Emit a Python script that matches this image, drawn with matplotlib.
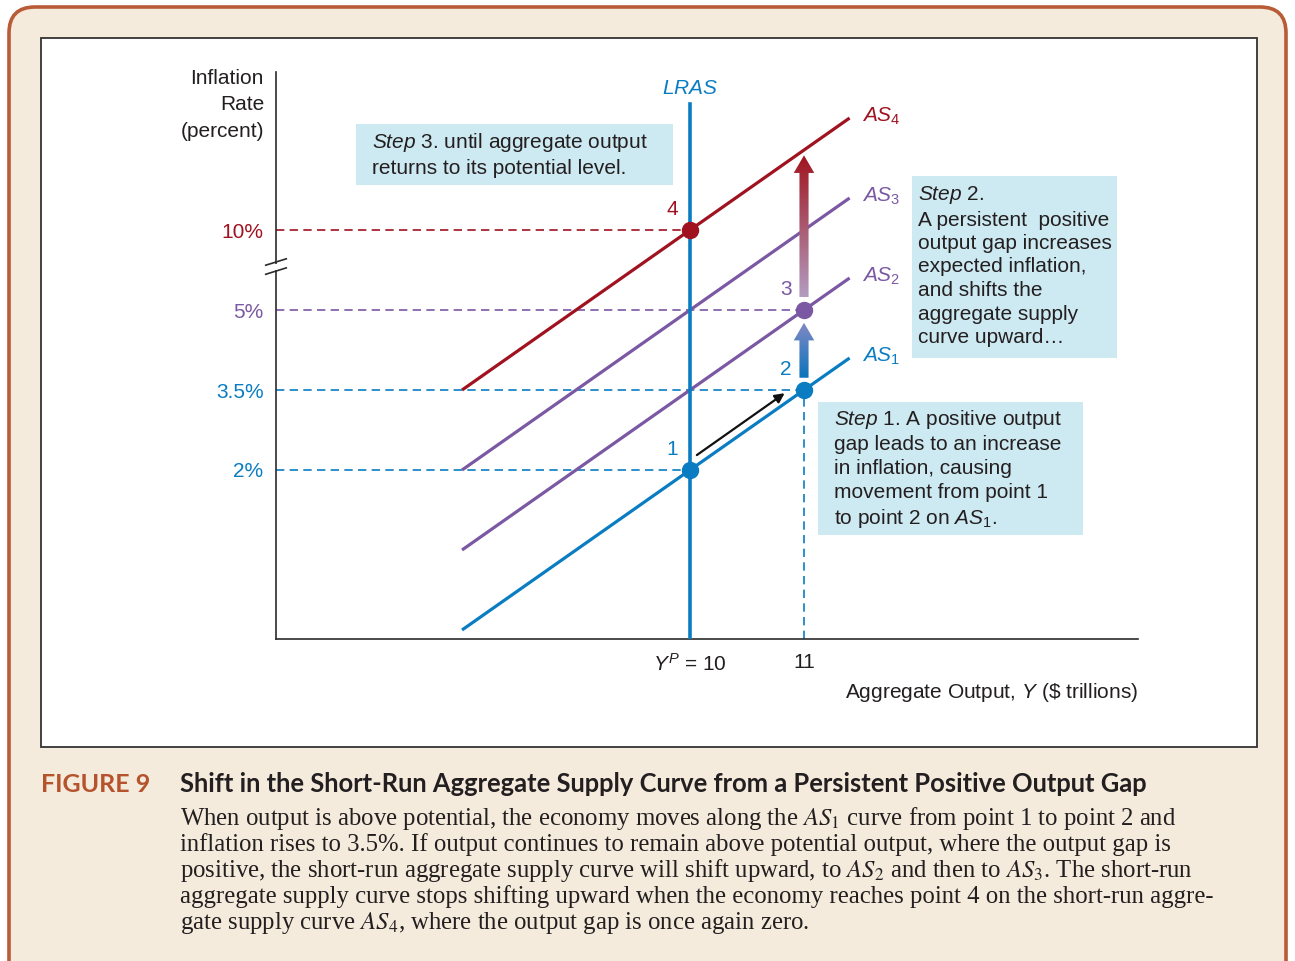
import numpy as np
import matplotlib
matplotlib.use('Agg')
from matplotlib import pyplot as plt
from matplotlib.patches import FancyBboxPatch, Rectangle, FancyArrow
from matplotlib.colors import LinearSegmentedColormap

plt.rcParams['font.family'] = ['Liberation Sans', 'DejaVu Sans']
plt.rcParams['mathtext.fontset'] = 'custom'
plt.rcParams['mathtext.rm'] = 'Liberation Sans'
plt.rcParams['mathtext.it'] = 'Liberation Sans:italic'

# data
y_pot = 10          # potential output, $ trillions
y_gap = 11          # output above potential
as_names = ['AS_1', 'AS_2', 'AS_3', 'AS_4']
as_level = [2.0, 3.5, 5.0, 6.5]      # height of each AS curve at Y = Y^P (10% drawn at 6.5, axis broken)
as_slope = 1.5
as_x = [8.0, 11.4]
infl_ticks = [2.0, 3.5, 5.0, 6.5]
infl_labels = ['2%', '3.5%', '5%', '10%']
pts_x = [10, 11, 11, 10]
pts_y = [2.0, 3.5, 5.0, 6.5]
pts_lab = ['1', '2', '3', '4']

blue = '#0a7dc2'
purple = '#7b58a3'
red = '#a0121f'
dark = '#231f20'
boxc = '#cde9f1'
as_col = [blue, purple, purple, red]
pt_col = [blue, blue, purple, red]

W, H = 1295, 961
fig = plt.figure(figsize=(W / 100, H / 100), dpi=100)
fig.patch.set_facecolor('white')

# background panel (pixel coords)
bg = fig.add_axes([0, 0, 1, 1], zorder=0)
bg.set_xlim(0, W)
bg.set_ylim(H, 0)
bg.axis('off')
bg.add_patch(FancyBboxPatch((9, 7), W - 18, H + 40, boxstyle='round,pad=0,rounding_size=26',
                            fc='#f4ebdc', ec='#b85b36', lw=2.6))
bg.add_patch(Rectangle((41, 38), 1216, 709, fc='white', ec='#333333', lw=1.3))

# main chart
ax = fig.add_axes([276 / W, (H - 639) / H, 862 / W, 567 / H], zorder=2)
ax.patch.set_alpha(0)
x0, x1 = 6.368, 13.93
yb, yt = -1.169, 9.463

for sp in ['top', 'right']:
    ax.spines[sp].set_visible(False)
for sp in ['left', 'bottom']:
    ax.spines[sp].set_color('#2b2b2b')
    ax.spines[sp].set_linewidth(1.2)

# AS curves
xs = np.array(as_x)
for name, lvl, c in zip(as_names, as_level, as_col):
    ax.plot(xs, lvl + as_slope * (xs - y_pot), color=c, lw=2.3, solid_capstyle='butt', zorder=3)
    ax.annotate('$' + name + '$', (xs[1], lvl + as_slope * (xs[1] - y_pot)),
                xytext=(9, 1), textcoords='offset points',
                ha='left', va='center', color=c, fontsize=15)

# LRAS
ax.plot([y_pot, y_pot], [yb, 8.86], color=blue, lw=2.6, zorder=3)
ax.annotate('$LRAS$', (y_pot, 8.86), xytext=(0, 11), textcoords='offset points',
            ha='center', va='center', color=blue, fontsize=15)

# dashed guides
dash = (0, (5, 3.2))
ax.hlines(6.5, x0, y_pot, colors=red, lw=1.2, linestyles=[dash], zorder=2)
ax.hlines(5.0, x0, y_gap, colors=purple, lw=1.2, linestyles=[dash], zorder=2)
ax.hlines(3.5, x0, y_gap, colors=blue, lw=1.2, linestyles=[dash], zorder=2)
ax.hlines(2.0, x0, y_pot, colors=blue, lw=1.2, linestyles=[dash], zorder=2)
ax.vlines(y_gap, yb, 3.5, colors=blue, lw=1.2, linestyles=[dash], zorder=2)

# gradient arrows
def grad_arrow(x, ya, yb_, c0, c1):
    arr = FancyArrow(x, ya, 0, yb_ - ya, width=0.08, head_width=0.18, head_length=0.33,
                     length_includes_head=True, fc='none', ec='none')
    ax.add_patch(arr)
    cm = LinearSegmentedColormap.from_list('g', [c0, c1])
    im = ax.imshow(np.linspace(0, 1, 128).reshape(-1, 1), cmap=cm, origin='lower',
                   extent=[x - 0.12, x + 0.12, ya, yb_], aspect='auto', zorder=3)
    im.set_clip_path(arr)

grad_arrow(y_gap, 3.5 + 0.23, 5.0 - 0.24, '#0a74bc', '#8088c4')
grad_arrow(y_gap, 5.0 + 0.24, 7.9, '#b39cc0', '#a0151f')

# movement along AS1
ax.annotate('', xy=(10.83, 3.44), xytext=(10.06, 2.28),
            arrowprops=dict(arrowstyle='-|>', color='#111111', lw=1.6, mutation_scale=14,
                            shrinkA=0, shrinkB=0), zorder=4)

# points
for px, py, lab, c in zip(pts_x, pts_y, pts_lab, pt_col):
    ax.plot(px, py, 'o', ms=11.5, color=c, zorder=5)
    ax.annotate(lab, (px, py), xytext=(-13, 14.5), textcoords='offset points',
                ha='center', va='center', color=c, fontsize=15)

# ticks
ax.set_yticks(infl_ticks, infl_labels, fontsize=15)
for t, c in zip(ax.get_yticklabels(), [blue, blue, purple, red]):
    t.set_color(c)
ax.set_xticks([y_pot, y_gap], ['$Y^P$ = %d' % y_pot, '%d' % y_gap], fontsize=15, color=dark)
ax.tick_params(axis='y', length=0, pad=9)
ax.tick_params(axis='x', length=0, pad=10)

ax.set_xlim(x0, x1)
ax.set_ylim(yb, yt)

# axis break
for by in [5.73, 5.9]:
    ax.plot([x0 - 0.09, x0 + 0.09], [by - 0.06, by + 0.06], color='#2b2b2b', lw=1.2,
            clip_on=False, zorder=6)
ax.add_patch(Rectangle((x0 - 0.02, 5.75), 0.04, 0.12, fc='white', ec='none', clip_on=False, zorder=5))

# axis titles
bg.text(264, 69, 'Inflation\nRate\n(percent)', ha='right', va='top', fontsize=15, color=dark,
        linespacing=1.5)
bg.text(1138, 692, r'Aggregate Output, $Y$ (\$ trillions)', ha='right', va='center',
        fontsize=15, color=dark)

# step boxes
ls = 1.3
bg.add_patch(Rectangle((356, 124), 317, 61, fc=boxc, ec='none'))
bg.text(372, 131, r'$Step\ 3$. until aggregate output' + '\nreturns to its potential level.',
        ha='left', va='top', fontsize=15, color=dark, linespacing=ls)
bg.add_patch(Rectangle((912, 176), 205, 182, fc=boxc, ec='none'))
bg.text(918, 184, r'$Step\ 2$.' + '\nA persistent  positive\noutput gap increases\nexpected inflation,\n'
        'and shifts the\naggregate supply\ncurve upward\u2026',
        ha='left', va='top', fontsize=15, color=dark, linespacing=ls)
bg.add_patch(Rectangle((818, 402), 265, 133, fc=boxc, ec='none'))
bg.text(834, 408, r'$Step\ 1$. A positive output' + '\ngap leads to an increase\nin inflation, causing\n'
        'movement from point 1\n' + r'to point 2 on $AS_1$.',
        ha='left', va='top', fontsize=15, color=dark, linespacing=ls)

# caption
bg.text(41, 784, 'FIGURE 9', ha='left', va='center', fontsize=18, fontweight='bold',
        family='Lato', color='#b5532d')
bg.text(180, 784, 'Shift in the Short-Run Aggregate Supply Curve from a Persistent Positive Output Gap',
        ha='left', va='center', fontsize=18.4, fontweight='bold', family='Lato', color=dark)
cap = [r'When output is above potential, the economy moves along the $AS_1$ curve from point 1 to point 2 and',
       'inflation rises to 3.5%. If output continues to remain above potential output, where the output gap is',
       r'positive, the short-run aggregate supply curve will shift upward, to $AS_2$ and then to $AS_3$. The short-run',
       'aggregate supply curve stops shifting upward when the economy reaches point 4 on the short-run aggre-',
       r'gate supply curve $AS_4$, where the output gap is once again zero.']
for i, line in enumerate(cap):
    bg.text(180, 818 + i * 26.3, line, ha='left', va='center', fontsize=17.8,
            family='Liberation Serif', math_fontfamily='stix', color=dark)

fig.savefig('out.png', dpi=100)
